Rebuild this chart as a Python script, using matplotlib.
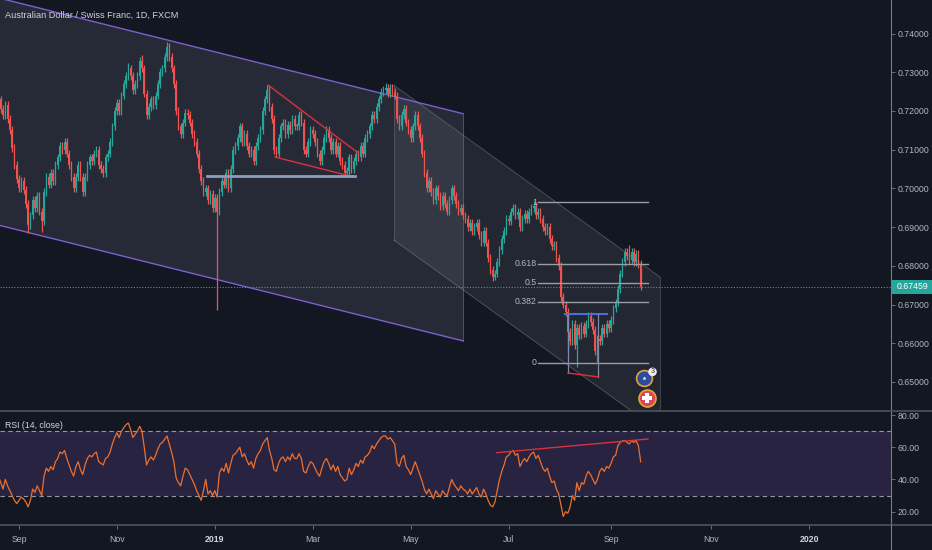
import numpy as np
import pandas as pd
import matplotlib
matplotlib.use("Agg")
import matplotlib.pyplot as plt
import matplotlib.transforms as mtransforms
from matplotlib.lines import Line2D
from matplotlib.patches import Rectangle

plt.rcParams['font.family'] = ['Liberation Sans', 'DejaVu Sans']

# ---- data, one daily bar per business day ----
title = "Australian Dollar / Swiss Franc, 1D, FXCM"
first_day = "2018-08-20"
first_open = 0.7260

closes = [
    0.7245, 0.7230, 0.7205, 0.7190, 0.7215, 0.7180, 0.7150, 0.7105, 0.7060, 0.7025,
    0.7000, 0.7020, 0.6995, 0.6960, 0.6905, 0.6930, 0.6970, 0.6950, 0.6980, 0.6940,
    0.6915, 0.6990, 0.7030, 0.7010, 0.7040, 0.7020, 0.7060, 0.7080, 0.7110, 0.7100,
    0.7120, 0.7090, 0.7060, 0.7030, 0.7000, 0.7030, 0.7060, 0.7030, 0.6990, 0.7030,
    0.7060, 0.7080, 0.7070, 0.7090, 0.7100, 0.7060, 0.7050, 0.7040, 0.7080, 0.7090,
    0.7120, 0.7160, 0.7200, 0.7220, 0.7200, 0.7240, 0.7270, 0.7290, 0.7310, 0.7290,
    0.7255, 0.7270, 0.7290, 0.7330, 0.7310, 0.7245, 0.7190, 0.7210, 0.7230, 0.7215,
    0.7240, 0.7270, 0.7300, 0.7310, 0.7340, 0.7365, 0.7340, 0.7310, 0.7270, 0.7200,
    0.7160, 0.7140, 0.7170, 0.7195, 0.7190, 0.7170, 0.7140, 0.7120, 0.7090, 0.7050,
    0.7020, 0.6990, 0.7000, 0.6970, 0.6985, 0.6950, 0.6975, 0.6940, 0.6990, 0.7020,
    0.7010, 0.7040, 0.7000, 0.7050, 0.7100, 0.7110, 0.7130, 0.7160, 0.7120, 0.7140,
    0.7110, 0.7090, 0.7100, 0.7070, 0.7110, 0.7130, 0.7150, 0.7200, 0.7230, 0.7255,
    0.7210, 0.7180, 0.7100, 0.7090, 0.7130, 0.7160, 0.7170, 0.7140, 0.7165, 0.7150,
    0.7180, 0.7160, 0.7160, 0.7190, 0.7170, 0.7100, 0.7090, 0.7120, 0.7150, 0.7140,
    0.7120, 0.7090, 0.7070, 0.7100, 0.7130, 0.7150, 0.7130, 0.7100, 0.7120, 0.7090,
    0.7110, 0.7070, 0.7060, 0.7040, 0.7045, 0.7080, 0.7050, 0.7070, 0.7090, 0.7080,
    0.7110, 0.7090, 0.7130, 0.7140, 0.7160, 0.7190, 0.7180, 0.7210, 0.7230, 0.7250,
    0.7255, 0.7260, 0.7245, 0.7260, 0.7250, 0.7240, 0.7180, 0.7160, 0.7190, 0.7205,
    0.7170, 0.7150, 0.7130, 0.7160, 0.7190, 0.7160, 0.7130, 0.7090, 0.7040, 0.7000,
    0.7020, 0.6990, 0.6970, 0.7000, 0.6980, 0.6955, 0.6980, 0.6960, 0.6940, 0.6970,
    0.7000, 0.6980, 0.6960, 0.6940, 0.6950, 0.6930, 0.6920, 0.6900, 0.6910, 0.6890,
    0.6900, 0.6910, 0.6880, 0.6860, 0.6890, 0.6860, 0.6820, 0.6790, 0.6770, 0.6780,
    0.6810, 0.6840, 0.6870, 0.6890, 0.6920, 0.6915, 0.6940, 0.6950, 0.6930, 0.6940,
    0.6900, 0.6920, 0.6935, 0.6920, 0.6940, 0.6950, 0.6955, 0.6930, 0.6940, 0.6920,
    0.6900, 0.6890, 0.6900, 0.6870, 0.6850, 0.6855, 0.6820, 0.6800, 0.6720, 0.6700,
    0.6680, 0.6630, 0.6605, 0.6650, 0.6595, 0.6640, 0.6620, 0.6645, 0.6625, 0.6650,
    0.6670, 0.6655, 0.6635, 0.6580, 0.6612, 0.6605, 0.6640, 0.6625, 0.6650, 0.6640,
    0.6660, 0.6690, 0.6705, 0.6740, 0.6780, 0.6810, 0.6835, 0.6825, 0.6815, 0.6835,
    0.6810, 0.6830, 0.6805, 0.67459,
]

# long wicks that stand out (bar number -> price)
spike_highs = {58: 0.7325, 64: 0.7345, 75: 0.7378, 119: 0.7267, 171: 0.7272,
               236: 0.6968, 278: 0.6855}
spike_lows = {14: 0.6885, 20: 0.6888, 81: 0.7130, 97: 0.6686, 219: 0.6763,
              251: 0.6583, 255: 0.6539, 264: 0.6552, 283: 0.6737}
wick = 0.0010

rsi = [
    45, 42, 38, 34, 40, 36, 33, 30, 27, 25,
    27, 29, 28, 26, 23, 27, 34, 32, 36, 33,
    30, 42, 47, 45, 48, 46, 51, 53, 57, 56,
    58, 53, 49, 45, 42, 48, 51, 46, 43, 49,
    53, 55, 54, 56, 57, 51, 50, 49, 53, 54,
    57, 62, 66, 69, 66, 70, 72, 74, 75, 71,
    66, 68, 70, 73, 70, 60, 49, 52, 54, 52,
    55, 59, 62, 63, 65, 67, 62, 57, 51, 41,
    38, 36, 42, 47, 46, 43, 40, 37, 33, 30,
    27, 33, 40, 31, 33, 30, 33, 29, 44, 47,
    45, 50, 44, 50, 55, 56, 58, 60, 54, 56,
    52, 49, 51, 47, 53, 56, 58, 62, 64, 66,
    58, 53, 46, 45, 50, 53, 54, 51, 54, 52,
    56, 53, 53, 56, 53, 45, 44, 48, 51, 50,
    47, 44, 42, 47, 51, 53, 50, 46, 49, 45,
    48, 43, 41, 39, 40, 47, 43, 46, 50, 48,
    52, 50, 54, 55, 57, 61, 59, 62, 64, 66,
    67, 67, 65, 66, 64, 62, 50, 48, 53, 55,
    48, 46, 43, 47, 51, 47, 43, 39, 34, 31,
    34, 31, 28, 33, 31, 29, 33, 31, 30, 35,
    40, 37, 35, 33, 36, 34, 33, 31, 34, 31,
    33, 35, 31, 29, 34, 31, 27, 24, 23, 26,
    33, 40, 45, 49, 54, 55, 57, 58, 55, 56,
    48, 51, 53, 51, 54, 56, 57, 53, 55, 51,
    47, 45, 47, 42, 38, 39, 34, 31, 24, 17,
    20, 19, 23, 30, 27, 38, 33, 38, 37, 42,
    45, 43, 40, 37, 40, 45, 47, 45, 48, 47,
    50, 54, 55, 61, 63, 64, 64, 63, 62, 64,
    63, 64, 61, 51,
]

last_price = 0.67459
price_ticks = [0.65, 0.66, 0.67, 0.68, 0.69, 0.70, 0.71, 0.72, 0.73, 0.74]
rsi_ticks = [20, 40, 60, 80]
month_ticks = [("2018-09", "Sep"), ("2018-11", "Nov"), ("2019-01", "2019"),
               ("2019-03", "Mar"), ("2019-05", "May"), ("2019-07", "Jul"),
               ("2019-09", "Sep"), ("2019-11", "Nov"), ("2020-01", "2020")]

# drawings (bar number, price)
channel1 = {"x": [-5, 205], "upper": [0.7501, 0.7193], "lower": [0.6914, 0.6606]}
channel2 = {"x": [174.5, 291.5], "upper": [0.7267, 0.6771], "lower": [0.6867, 0.6372]}
wedge_upper = ([119.4, 158.4], [0.7267, 0.7094])
wedge_lower = ([122.4, 155.4], [0.7081, 0.7032])
support = ([92.6, 157.6], [0.7032, 0.7032])
fib_x = [238, 286.2]
fib_low, fib_high = 0.6549, 0.6964
fib_levels = [0, 0.382, 0.5, 0.618, 1]
fib_labels = ["0", "0.382", "0.5", "0.618", "1"]
box_top = ([249.8, 268.2], [0.6675, 0.6675])
box_left = ([251.1, 251.1], [0.6675, 0.6523])
box_right = ([264.3, 264.3], [0.6675, 0.6513])
box_bottom = ([251.1, 264.3], [0.6523, 0.6513])
rsi_trend = ([219.8, 286.2], [56.6, 65.1])

# ---- colours ----
bg = '#131722'
txt = '#b2b5be'
up = '#26a69a'
down = '#ef5350'

closes = np.array(closes)
n = len(closes)
xs = np.arange(n)
opens = np.r_[first_open, closes[:-1]]
highs = np.maximum(opens, closes) + wick
lows = np.minimum(opens, closes) - wick
for k, v in spike_highs.items():
    highs[k] = v
for k, v in spike_lows.items():
    lows[k] = v
cols = np.where(closes >= opens, up, down)

all_days = pd.bdate_range(first_day, "2020-02-28")
ym = all_days.strftime("%Y-%m")
tick_pos = [int(np.argmax(ym == m)) for m, _ in month_ticks]

fig = plt.figure(figsize=(9.32, 5.5), dpi=100, facecolor=bg)
ax = fig.add_axes([0, 0.2527, 0.9557, 0.7473], facecolor=bg)
ax2 = fig.add_axes([0, 0.04545, 0.9557, 0.2073], facecolor=bg, sharex=ax)

# channels
ax.fill_between(channel1["x"], channel1["lower"], channel1["upper"],
                color='#8b8fa8', alpha=0.16, lw=0, zorder=1)
ax.plot(channel1["x"], channel1["upper"], color='#7e5fd0', lw=1, zorder=2)
ax.plot(channel1["x"], channel1["lower"], color='#7e5fd0', lw=1, zorder=2)
ax.plot([channel1["x"][1]] * 2, [channel1["lower"][1], channel1["upper"][1]],
        color='#8b8fa8', lw=0.6, alpha=0.5, zorder=2)

ax.fill_between(channel2["x"], channel2["lower"], channel2["upper"],
                color='#9598a1', alpha=0.13, lw=0, zorder=1)
for side in ["upper", "lower"]:
    ax.plot(channel2["x"], channel2[side], color='#9598a1', lw=0.6, alpha=0.45, zorder=2)
for j in [0, 1]:
    ax.plot([channel2["x"][j]] * 2, [channel2["lower"][j], channel2["upper"][j]],
            color='#9598a1', lw=0.6, alpha=0.35, zorder=2)

# candles
ax.vlines(xs, lows, highs, colors=cols, lw=0.9, zorder=3)
body = np.maximum(np.abs(closes - opens), 0.0003)
ax.bar(xs, body, bottom=np.minimum(opens, closes), width=0.66, color=cols,
       lw=0, zorder=4)

# pattern drawings
ax.plot(*wedge_upper, color='#d8323f', lw=1, zorder=5)
ax.plot(*wedge_lower, color='#d8323f', lw=1, zorder=5)
ax.plot(*support, color='#8d9cc0', lw=2, zorder=5)
for lvl, lab in zip(fib_levels, fib_labels):
    p = fib_low + lvl * (fib_high - fib_low)
    ax.plot(fib_x, [p, p], color='#9a9ca6', lw=1, zorder=5)
    ax.text(fib_x[0] - 0.6, p, lab, ha='right', va='center', color=txt,
            fontsize=6.3, zorder=6)
ax.plot(*box_top, color='#4c6fd6', lw=1.5, zorder=5)
ax.plot(*box_left, color='#7f8aa8', lw=0.9, zorder=5)
ax.plot(*box_right, color='#7f8aa8', lw=0.9, zorder=5)
ax.plot(*box_bottom, color='#e0303c', lw=1, zorder=5)

# current price line + label on the price scale
ax.axhline(last_price, color=up, ls=(0, (1, 1.5)), lw=0.8, zorder=2)
blend = mtransforms.blended_transform_factory(ax.transAxes, ax.transData)
ax.add_patch(Rectangle((1.0, last_price - 0.0018), 0.046, 0.0036, transform=blend,
                       fc=up, ec='none', clip_on=False, zorder=7))
ax.text(1.0065, last_price, f"{last_price:.5f}", transform=blend, ha='left',
        va='center', color='white', fontsize=6.3, clip_on=False, zorder=8)

# event icons (AUD / CHF)
ax.scatter([284.5], [0.6510], s=130, fc='#2c4d9e', ec='#e3a23c', lw=1.2, zorder=8)
ax.scatter([284.5], [0.6510], s=10, marker='*', c='white', lw=0, zorder=9)
ax.scatter([288.2], [0.6526], s=38, fc='#f0f0f4', ec='none', zorder=9)
ax.text(288.2, 0.6526, "3", ha='center', va='center', fontsize=5, color='#222',
        zorder=10)
ax.scatter([285.8], [0.6459], s=150, fc='#e04556', ec='#e3a23c', lw=1.2, zorder=8)
ax.scatter([285.8], [0.6459], s=45, marker='P', c='white', lw=0, zorder=9)

ax.text(0.006, 0.9635, title, transform=ax.transAxes, color='#d1d4dc',
        fontsize=6.6, va='center', ha='left')

ax.set_xlim(1.66, 392.8)
ax.set_ylim(0.64248, 0.74868)
ax.yaxis.tick_right()
ax.set_yticks(price_ticks)
ax.set_yticklabels([f"{p:.5f}" for p in price_ticks])
ax.tick_params(axis='y', colors=txt, labelsize=6.3, length=3, width=0.6,
               color='#787b86', pad=2)
ax.tick_params(axis='x', bottom=False, labelbottom=False)
for s in ['top', 'left', 'bottom']:
    ax.spines[s].set_visible(False)
ax.spines['right'].set_color('#787b86')
ax.spines['right'].set_linewidth(0.8)

# RSI panel
ax2.axhspan(30, 70, color='#7e57c2', alpha=0.2, lw=0, zorder=1)
for lvl in [70, 30]:
    ax2.axhline(lvl, color='#9598a1', lw=0.8, ls=(0, (4, 3)), zorder=2)
ax2.plot(xs, rsi, color='#ec7030', lw=0.9, zorder=3)
ax2.plot(*rsi_trend, color='#d8323f', lw=1, zorder=4)
ax2.text(0.006, 0.877, "RSI (14, close)", transform=ax2.transAxes,
         color='#d1d4dc', fontsize=6.3, va='center', ha='left')
ax2.set_ylim(11.7, 82.5)
ax2.yaxis.tick_right()
ax2.set_yticks(rsi_ticks)
ax2.set_yticklabels([f"{v:.2f}" for v in rsi_ticks])
ax2.tick_params(axis='y', colors=txt, labelsize=6.3, length=3, width=0.6,
                color='#787b86', pad=2)
ax2.set_xticks(tick_pos)
ax2.set_xticklabels([lab for _, lab in month_ticks])
ax2.tick_params(axis='x', colors=txt, labelsize=6.3, length=3, width=0.6,
                color='#787b86', pad=4)
for lab, (_, name) in zip(ax2.get_xticklabels(), month_ticks):
    if name.isdigit():
        lab.set_fontweight('bold')
        lab.set_color('#d1d4dc')
for s in ['top', 'left', 'bottom']:
    ax2.spines[s].set_visible(False)
ax2.spines['right'].set_color('#787b86')
ax2.spines['right'].set_linewidth(0.8)

# panel separators and axis line below
for yf in [0.2527, 0.04545]:
    fig.add_artist(Line2D([0, 1], [yf, yf], color='#4e525e', lw=1.2))
fig.add_artist(Line2D([0.9557, 0.9557], [0, 0.04545], color='#787b86', lw=0.8))

fig.savefig("out.png", dpi=100, facecolor=bg)
